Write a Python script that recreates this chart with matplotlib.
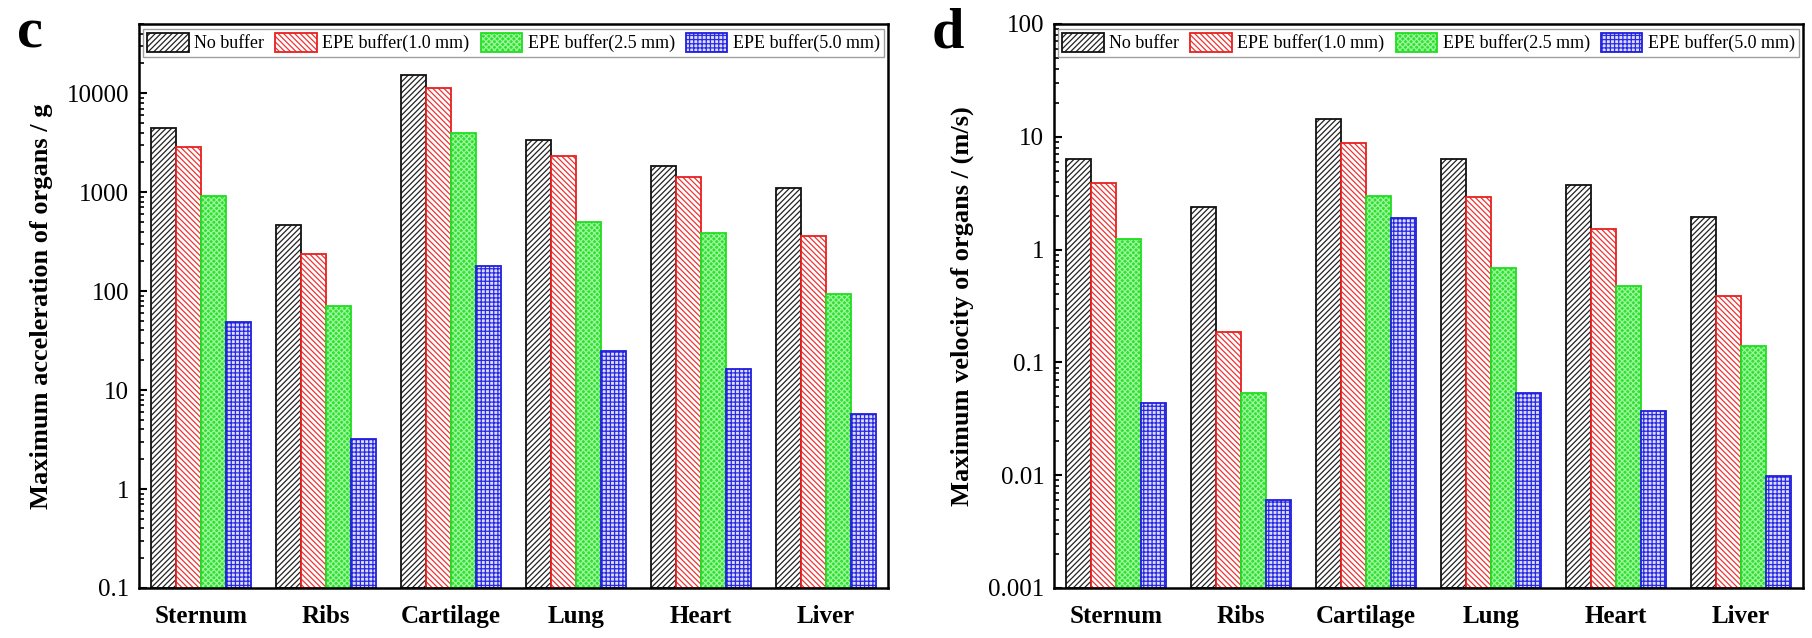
import matplotlib
matplotlib.use("Agg")
import matplotlib.pyplot as plt
import numpy as np
from matplotlib.ticker import FixedLocator, FixedFormatter, LogLocator, NullFormatter

plt.rcParams['font.family'] = ['Liberation Serif', 'DejaVu Serif']
plt.rcParams['hatch.linewidth'] = 0.9

organs = ["Sternum", "Ribs", "Cartilage", "Lung", "Heart", "Liver"]
series = ["No buffer", "EPE buffer(1.0 mm)", "EPE buffer(2.5 mm)", "EPE buffer(5.0 mm)"]

acc_no_buffer = [4450, 470, 15200, 3330, 1830, 1100]
acc_epe_1_0 = [2870, 235, 11200, 2300, 1410, 360]
acc_epe_2_5 = [910, 71, 3970, 500, 390, 93]
acc_epe_5_0 = [49, 3.1, 178, 25, 16.3, 5.6]

vel_no_buffer = [6.4, 2.4, 14.5, 6.4, 3.7, 1.96]
vel_epe_1_0 = [3.9, 0.185, 8.9, 2.95, 1.53, 0.39]
vel_epe_2_5 = [1.25, 0.053, 3.0, 0.69, 0.47, 0.14]
vel_epe_5_0 = [0.043, 0.005, 1.9, 0.053, 0.036, 0.0088]

acc_ticks = [0.1, 1, 10, 100, 1000, 10000]
acc_ticklabels = ["0.1", "1", "10", "100", "1000", "10000"]
vel_ticks = [0.001, 0.01, 0.1, 1, 10, 100]
vel_ticklabels = ["0.001", "0.01", "0.1", "1", "10", "100"]

styles = [
    dict(face="white", hatchcol="#222222", edge="#111111", hatch="//////"),
    dict(face="white", hatchcol="#ee3333", edge="#e82020", hatch="\\\\\\\\\\\\"),
    dict(face="#2fe02f", hatchcol="#9cf59c", edge="#22dd22", hatch="xxxxxx"),
    dict(face="#dcdcff", hatchcol="#2a2ae0", edge="#2020dd", hatch="++++"),
]

fig = plt.figure(figsize=(18.12, 6.38), dpi=100)
ax1 = fig.add_axes([139/1812, 1-588/638, (888-139)/1812, (588-24)/638])
ax2 = fig.add_axes([1054/1812, 1-588/638, (1803-1054)/1812, (588-24)/638])


def draw(ax, data, ylim, ticks, ticklabels, ylabel):
    ax.set_yscale('log')
    ax.set_ylim(*ylim)
    x = np.arange(len(organs))
    w = 0.2
    handles = []
    for i, (vals, st) in enumerate(zip(data, styles)):
        xs = x - 0.3 + i * w
        b1 = ax.bar(xs, vals, w, bottom=ylim[0], color=st["face"], edgecolor=st["hatchcol"],
                    hatch=st["hatch"], linewidth=0)
        b2 = ax.bar(xs, vals, w, bottom=ylim[0], fill=False, edgecolor=st["edge"], linewidth=1.3)
        handles.append((b1, b2))
    ax.set_xlim(-0.5, len(organs) - 0.5)
    ax.set_xticks(x)
    ax.set_xticklabels(organs, fontsize=18, fontweight='bold')
    ax.tick_params(axis='x', length=0, pad=12)
    ax.yaxis.set_major_locator(FixedLocator(ticks))
    ax.yaxis.set_major_formatter(FixedFormatter(ticklabels))
    ax.yaxis.set_minor_locator(LogLocator(base=10, subs=np.arange(2, 10), numticks=20))
    ax.yaxis.set_minor_formatter(NullFormatter())
    ax.tick_params(axis='y', which='major', direction='in', length=6, width=1.5, labelsize=18, pad=7)
    ax.tick_params(axis='y', which='minor', direction='in', length=3.5, width=1.2)
    for sp in ax.spines.values():
        sp.set_linewidth(1.8)
    ax.set_ylabel(ylabel, fontsize=19, fontweight='bold', labelpad=10)
    leg = ax.legend(handles, series, ncol=4, loc='upper left', bbox_to_anchor=(0.005, 0.992, 0.99, 0),
                    mode='expand', fontsize=13, frameon=True, fancybox=False, handlelength=2.3,
                    handleheight=1.2, handletextpad=0.3, borderpad=0.25, borderaxespad=0)
    leg.get_frame().set_edgecolor('#888888')
    leg.get_frame().set_linewidth(1.0)


draw(ax1, [acc_no_buffer, acc_epe_1_0, acc_epe_2_5, acc_epe_5_0], (0.1, 50000),
     acc_ticks, acc_ticklabels, "Maximum acceleration of organs / g")
draw(ax2, [vel_no_buffer, vel_epe_1_0, vel_epe_2_5, vel_epe_5_0], (0.001, 100),
     vel_ticks, vel_ticklabels, "Maximum velocity of organs / (m/s)")

fig.text(17/1812, 1-47/638, "c", fontsize=42, fontweight='bold', va='baseline', ha='left')
fig.text(932/1812, 1-47/638, "d", fontsize=42, fontweight='bold', va='baseline', ha='left')

fig.savefig("out.png", dpi=100)
